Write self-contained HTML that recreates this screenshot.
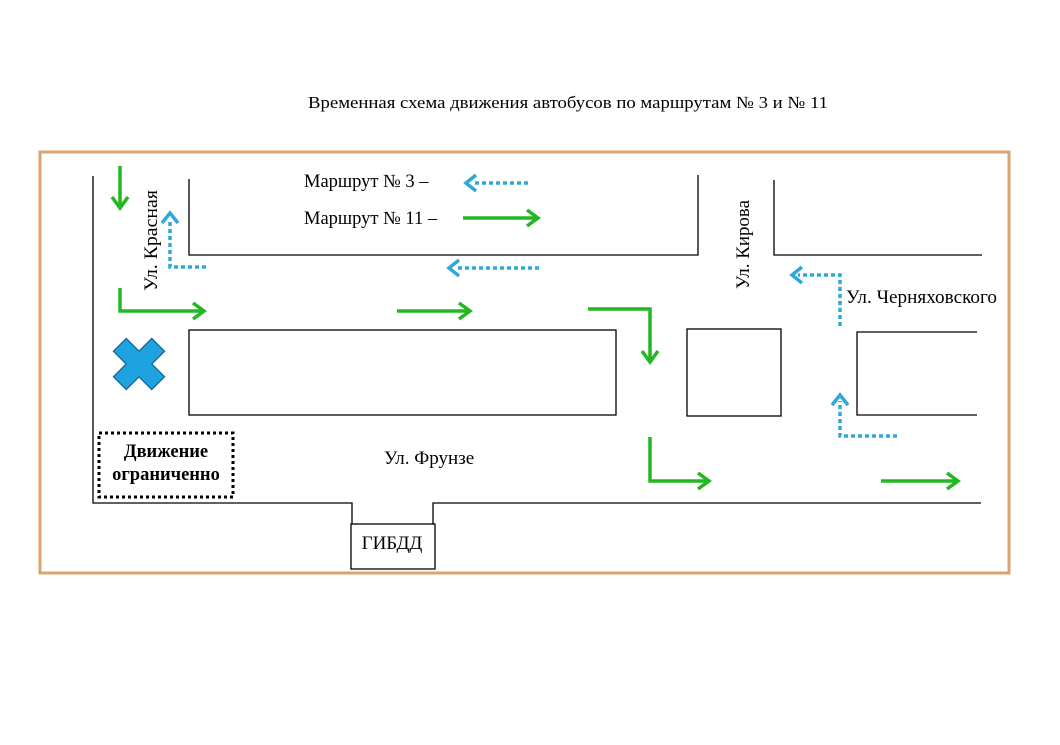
<!DOCTYPE html>
<html><head><meta charset="utf-8"><style>
html,body{margin:0;padding:0;background:#fff;}
svg{display:block;}
text{font-family:"Liberation Serif","Noto Serif CJK SC",serif;fill:#000;}
</style></head><body>
<svg width="1060" height="745" viewBox="0 0 1060 745" xmlns="http://www.w3.org/2000/svg">
<rect x="0" y="0" width="1060" height="745" fill="#fff"/>
<text x="568" y="108" font-size="17" text-anchor="middle" textLength="520" lengthAdjust="spacingAndGlyphs">Временная схема движения автобусов по маршрутам № 3 и № 11</text>
<rect x="40" y="152" width="969" height="421" fill="none" stroke="#d9a46f" stroke-width="3"/>
<g fill="none" stroke="#000" stroke-width="1.3">
<polyline points="93,176 93,503 352,503 352,524"/>
<polyline points="433,524 433,503 981,503"/>
<rect x="351" y="524" width="84" height="45"/>
<polyline points="189,179 189,255 698,255 698,175"/>
<polyline points="774,180 774,255 982,255"/>
<rect x="189" y="330" width="427" height="85"/>
<rect x="687" y="329" width="94" height="87"/>
<polyline points="977,332 857,332 857,415 977,415"/>
</g>
<text x="392" y="549" font-size="19" text-anchor="middle">ГИБДД</text>
<g fill="none" stroke="#22b822" stroke-width="3.5">
<line x1="120" y1="166" x2="120" y2="208"/>
<path d="M112,197 L120,208 L128,197"/>
<polyline points="120,288 120,311 204,311"/>
<path d="M193,303 L204,311 L193,319"/>
<line x1="397" y1="311" x2="470" y2="311"/>
<path d="M459,303 L470,311 L459,319"/>
<polyline points="588,309 650,309 650,362"/>
<path d="M642,351 L650,362 L658,351"/>
<polyline points="650,437 650,481 709,481"/>
<path d="M698,473 L709,481 L698,489"/>
<line x1="881" y1="481" x2="958" y2="481"/>
<path d="M947,473 L958,481 L947,489"/>
<line x1="463" y1="218" x2="538" y2="218"/>
<path d="M527,210 L538,218 L527,226"/>
</g>
<g fill="none" stroke="#2ea8d8" stroke-width="3.5">
<g stroke-dasharray="4,3">
<line x1="528" y1="183" x2="472" y2="183"/>
<polyline points="206,267 170,267 170,219"/>
<line x1="539" y1="268" x2="455" y2="268"/>
<polyline points="840,326 840,275 798,275"/>
<polyline points="897,436 840,436 840,401"/>
</g>
<path d="M476,175 L466,183 L476,191"/>
<path d="M162,223 L170,213 L178,223"/>
<path d="M459,260 L449,268 L459,276"/>
<path d="M802,267 L792,275 L802,283"/>
<path d="M832,405 L840,395 L848,405"/>
</g>
<g transform="translate(139,364) rotate(45)">
<path d="M-9,-27 H9 V-9 H27 V9 H9 V27 H-9 V9 H-27 V-9 H-9 Z" fill="#1fa3e0" stroke="#1a6fa0" stroke-width="1.5"/>
</g>
<rect x="99" y="433" width="134" height="64" fill="none" stroke="#000" stroke-width="3" stroke-dasharray="3,3"/>
<text x="166" y="457" font-size="18.5" font-weight="bold" text-anchor="middle">Движение</text>
<text x="166" y="480" font-size="18.5" font-weight="bold" text-anchor="middle">ограниченно</text>
<text x="304" y="187" font-size="18.5">Маршрут № 3 –</text>
<text x="304" y="224" font-size="18.5">Маршрут № 11 –</text>
<text x="384" y="464" font-size="19">Ул. Фрунзе</text>
<text x="846" y="303" font-size="19" textLength="151" lengthAdjust="spacingAndGlyphs">Ул. Черняховского</text>
<text transform="translate(157,291) rotate(-90)" font-size="19" textLength="101" lengthAdjust="spacingAndGlyphs">Ул. Красная</text>
<text transform="translate(749,289) rotate(-90)" font-size="19" textLength="89" lengthAdjust="spacingAndGlyphs">Ул. Кирова</text>
</svg>
</body></html>
